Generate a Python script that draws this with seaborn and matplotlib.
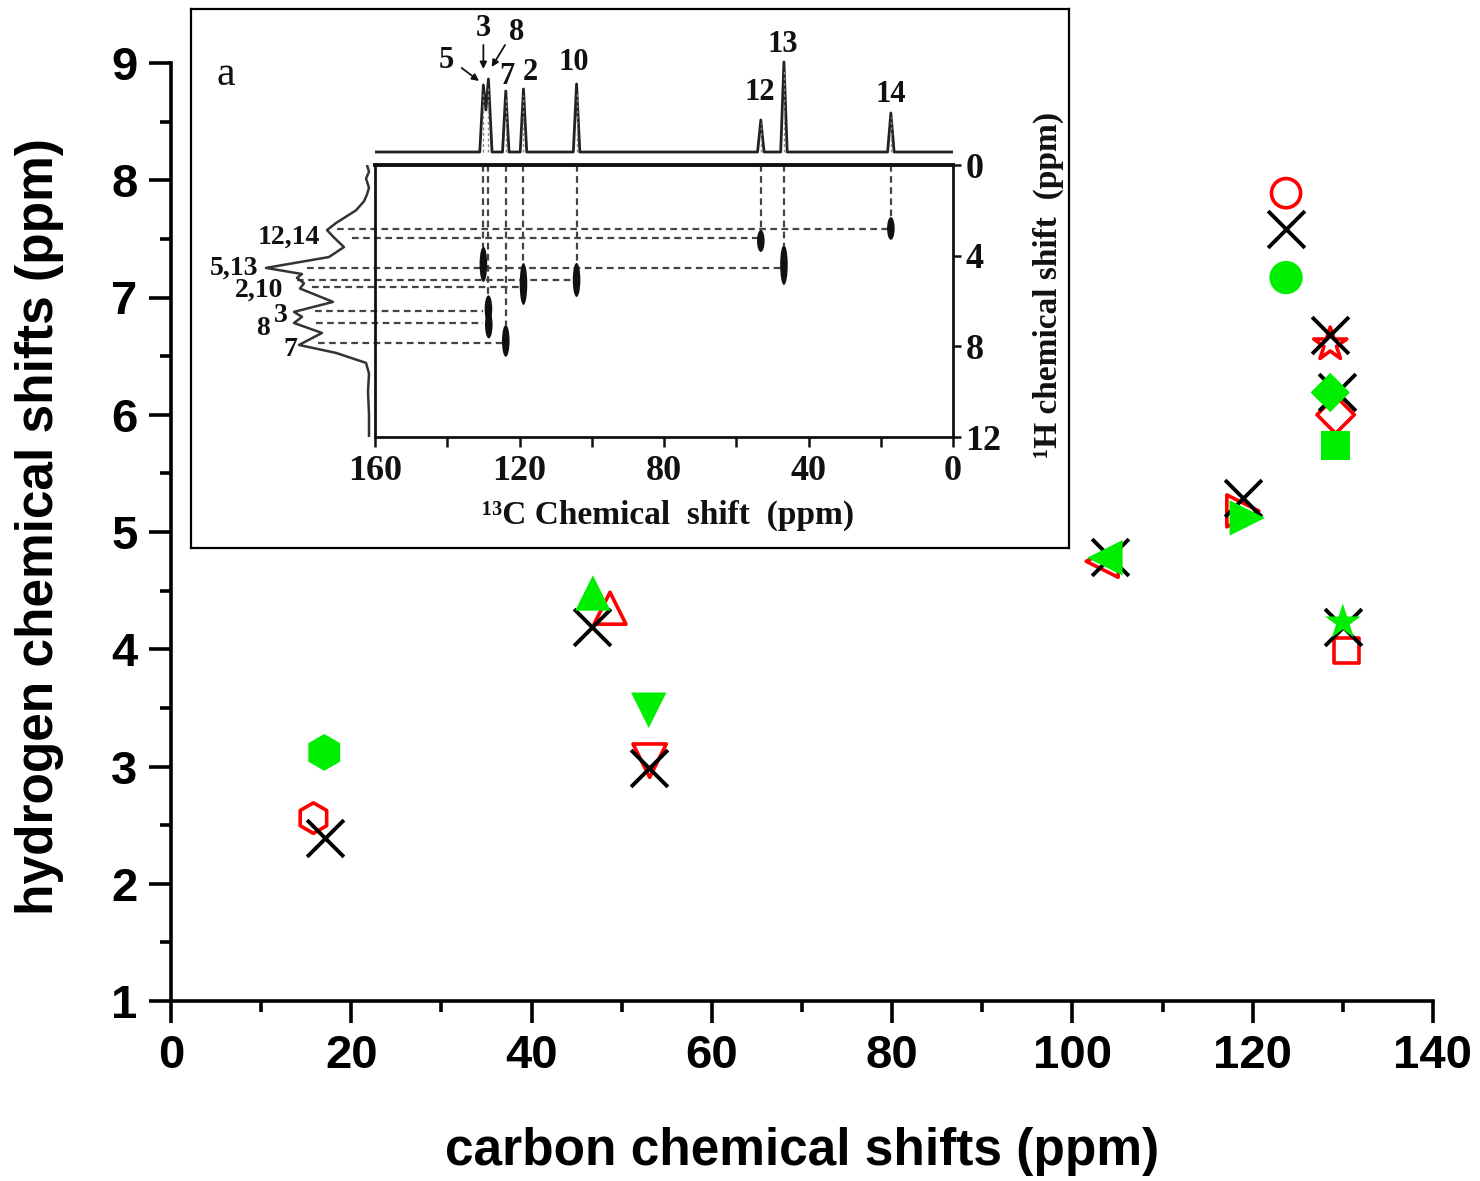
import numpy as np
import pandas as pd
import matplotlib
matplotlib.use("Agg")
import matplotlib.pyplot as plt
from matplotlib.patches import Ellipse
from matplotlib.ticker import MultipleLocator, FixedLocator
import seaborn as sns

# ---------------- main plot: carbon vs hydrogen chemical shifts (ppm) ----------------
red_shape = ["hex", "tri_up", "tri_down", "tri_left", "tri_right", "circle", "star", "diamond", "square"]
red_carbon = [15.8, 48.7, 53.1, 103.3, 118.9, 123.7, 128.6, 129.2, 130.4]
red_hydrogen = [2.56, 4.35, 3.05, 4.75, 5.18, 7.89, 6.60, 6.00, 3.99]

black_carbon = [17.1, 46.7, 53.0, 104.2, 118.9, 123.7, 128.6, 129.3, 130.0]
black_hydrogen = [2.39, 4.19, 2.99, 4.79, 5.29, 7.58, 6.68, 6.19, 4.19]

green_shape = ["hex", "tri_up", "tri_down", "tri_left", "tri_right", "circle", "diamond", "square", "star"]
green_carbon = [17.0, 46.8, 53.0, 103.6, 119.4, 123.7, 128.6, 129.2, 130.0]
green_hydrogen = [3.12, 4.48, 3.48, 4.78, 5.12, 7.17, 6.19, 5.74, 4.23]

x_ticks = [0, 20, 40, 60, 80, 100, 120, 140]
y_ticks = [1, 2, 3, 4, 5, 6, 7, 8, 9]

# ---------------- inset: 2D 1H-13C correlation spectrum ----------------
c13_trace_ppm = [160, 131.0, 130.0, 129.3, 128.6, 127.6, 124.7, 123.8, 122.9, 119.8, 118.9, 118.0,
                 105.1, 104.2, 103.3, 54.1, 53.2, 52.3, 47.7, 46.8, 45.9, 18.1, 17.2, 16.3, 0]
c13_trace_int = [0, 0, 67, 42, 73, 0, 0, 61, 0, 0, 63, 0,
                 0, 68, 0, 0, 32, 0, 0, 90, 0, 0, 39, 0, 0]

c13_peak_ppm = [130.0, 128.6, 123.8, 118.9, 104.2, 53.2, 46.8, 17.2]
c13_peak_int = [67, 73, 61, 63, 68, 32, 90, 39]

c13_labels = ["5", "3", "8", "7", "2", "10", "12", "13", "14"]
c13_label_ppm = [140.3, 130.0, 120.8, 123.5, 117.1, 105.1, 53.4, 47.1, 17.2]
c13_label_int = [92, 124, 120, 75, 79, 90, 59, 108, 57]

arrow_tail_ppm = [136.0, 130.0, 124.0]
arrow_tail_int = [84, 107, 107]
arrow_head_ppm = [131.2, 130.0, 127.7]
arrow_head_int = [71, 83, 85]

h1_trace_ppm = [0.0, 0.3, 0.6, 1.0, 1.3, 1.6, 2.0, 2.56, 2.87, 3.2, 3.62, 4.06, 4.54, 4.81, 4.98,
                5.22, 5.45, 6.04, 6.48, 6.7, 6.97, 7.41, 7.94, 8.29, 8.73, 9.2, 10.0, 11.0, 12.0]
h1_trace_int = [3, 1, 4, 1, 3, 6, 14, 34, 43, 36, 26, 41, 104, 68, 73,
                66, 70, 37, 76, 68, 76, 48, 71, 34, 4, 1, 2, 1, 1]

h1_labels = ["12,14", "5,13", "2,10", "3", "8", "7"]
h1_label_ppm = [3.18, 4.55, 5.52, 6.62, 7.22, 8.14]
h1_label_int = [50, 112, 87, 82, 100, 73]

cross_c = [130.0, 128.6, 128.5, 123.8, 118.9, 104.2, 53.2, 46.8, 17.2]
cross_h = [4.38, 6.35, 7.05, 7.76, 5.25, 5.07, 3.35, 4.41, 2.80]
cross_len = [1.55, 1.2, 1.2, 1.4, 1.85, 1.5, 0.97, 1.76, 1.0]

vline_c = [130.0, 128.6, 123.8, 118.9, 104.2, 53.2, 46.8, 17.2]
vline_h_end = [3.6, 5.75, 7.06, 4.32, 4.32, 2.87, 3.53, 2.3]

hline_h = [2.82, 3.23, 4.56, 5.07, 5.37, 6.44, 6.96, 7.84]
hline_c_start = [170.5, 166.3, 178.8, 181.5, 177.4, 176.6, 176.3, 175.8]
hline_c_end = [17.2, 53.2, 46.8, 104.2, 118.9, 130.0, 130.0, 123.8]

inset_x_major = [160, 120, 80, 40, 0]
inset_x_minor = [140, 100, 60, 20]
inset_y_ticks = [0, 4, 8, 12]

# ---------------- styling ----------------
sns.set_theme(style="ticks")
plt.rcParams["font.family"] = ["Liberation Sans", "DejaVu Sans"]
plt.rcParams["font.weight"] = "bold"
plt.rcParams["axes.labelweight"] = "bold"
for key in ("text.color", "axes.labelcolor", "xtick.color", "ytick.color", "axes.edgecolor"):
    plt.rcParams[key] = "black"

glyph = {"hex": "h", "tri_up": "^", "tri_down": "v", "tri_left": "<", "tri_right": ">",
         "circle": "o", "star": "*", "diamond": "D", "square": "s"}
green_size = {"hex": 26.5, "tri_up": 25.5, "tri_down": 25.5, "tri_left": 25.5, "tri_right": 25.5,
              "circle": 24, "star": 27, "diamond": 20, "square": 21}
red_size = {"hex": 22, "tri_up": 23, "tri_down": 24, "tri_left": 23, "tri_right": 23,
            "circle": 21, "star": 25, "diamond": 19, "square": 18}
RED, GREEN, BLACK = "#ff0000", "#00ee00", "#000000"
INK = "#111111"

W, H = 1480, 1181
fig = plt.figure(figsize=(W / 100, H / 100), dpi=100)
fig.patch.set_facecolor("white")


def px_rect(x0, y0, x1, y1):
    return [x0 / W, 1 - y1 / H, (x1 - x0) / W, (y1 - y0) / H]


ax = fig.add_axes(px_rect(171, 63, 1433, 1001))

red_df = pd.DataFrame({"carbon": red_carbon, "hydrogen": red_hydrogen, "shape": red_shape})
green_df = pd.DataFrame({"carbon": green_carbon, "hydrogen": green_hydrogen, "shape": green_shape})
black_df = pd.DataFrame({"carbon": black_carbon, "hydrogen": black_hydrogen})

sns.scatterplot(data=red_df, x="carbon", y="hydrogen", style="shape", markers=glyph,
                size="shape", sizes={k: v ** 2 for k, v in red_size.items()},
                color=RED, linewidth=2.6, legend=False, zorder=3, ax=ax)
open_pts = ax.collections[-1]
open_pts.set_facecolor("none")
open_pts.set_edgecolor(RED)
open_pts.set_linewidth(2.6)

sns.scatterplot(data=black_df, x="carbon", y="hydrogen", marker="x", s=26.5 ** 2,
                color=BLACK, linewidth=2.8, legend=False, zorder=4, ax=ax)

sns.scatterplot(data=green_df, x="carbon", y="hydrogen", style="shape", markers=glyph,
                size="shape", sizes={k: v ** 2 for k, v in green_size.items()},
                color=GREEN, linewidth=0, legend=False, zorder=5, ax=ax)

ax.set_xlim(0, 140)
ax.set_ylim(1, 9)
ax.xaxis.set_major_locator(FixedLocator(x_ticks))
ax.yaxis.set_major_locator(FixedLocator(y_ticks))
ax.xaxis.set_minor_locator(MultipleLocator(10))
ax.yaxis.set_minor_locator(MultipleLocator(0.5))
sns.despine(ax=ax)
for side in ("left", "bottom"):
    ax.spines[side].set_linewidth(2.6)
    ax.spines[side].set_color("black")
ax.tick_params(which="major", length=16, width=2.6, color="black", labelcolor="black",
               pad=8, labelsize=34, labelfontfamily=["Liberation Sans Narrow", "Liberation Sans"])
ax.tick_params(which="minor", length=8, width=2.6, color="black")
ax.set_xlabel("carbon chemical shifts (ppm)", fontsize=37, fontweight="bold", color="black")
ax.set_ylabel("hydrogen chemical shifts (ppm)", fontsize=37, fontweight="bold", color="black")
ax.xaxis.label.set_va("center")
ax.yaxis.label.set_va("center")
ax.xaxis.set_label_coords(0.5, (1001 - 1152) / 938)
ax.yaxis.set_label_coords((40 - 171) / 1262, (1001 - 527) / 938)

# ---------------- inset frame ----------------
serif = ["Liberation Serif", "DejaVu Serif"]
box = fig.add_axes(px_rect(191, 9, 1069, 548))
box.set_xticks([])
box.set_yticks([])
box.set_facecolor("white")
for sp in box.spines.values():
    sp.set_visible(True)
    sp.set_linewidth(1.6)
    sp.set_color("black")
box.text(0.04, 0.878, "a", transform=box.transAxes, fontsize=30, fontweight="normal",
         family=serif, ha="center", va="center", color=INK)

# 2D correlation panel
ax2 = fig.add_axes(px_rect(375, 165, 953, 437))
ax2.set_facecolor("white")
ax2.set_xlim(160, 0)
ax2.set_ylim(12, 0)
for side, sp in ax2.spines.items():
    sp.set_visible(True)
    sp.set_color(INK)
    sp.set_linewidth(2.8 if side == "top" else 2.0)
ax2.xaxis.set_major_locator(FixedLocator(inset_x_major))
ax2.xaxis.set_minor_locator(FixedLocator(inset_x_minor))
ax2.yaxis.set_major_locator(FixedLocator(inset_y_ticks))
ax2.yaxis.tick_right()
ax2.tick_params(axis="x", which="both", length=7, width=1.8, color=INK, labelcolor=INK, pad=6,
                labelsize=26, labelfontfamily=serif)
ax2.tick_params(axis="y", which="major", length=6, width=1.8, color=INK, labelcolor=INK, pad=3,
                labelsize=26, labelfontfamily=serif, right=True, left=False)
ax2.set_xlabel("¹³C Chemical  shift  (ppm)", fontsize=24, fontweight="bold", family=serif,
               color=INK)
ax2.xaxis.set_label_coords((668 - 375) / 578, (437 - 515) / 272)
ax2.xaxis.label.set_va("center")
ax2.yaxis.set_label_position("right")
ax2.set_ylabel("¹H chemical shift  (ppm)", fontsize=24, fontweight="bold", family=serif,
               rotation=90, color=INK)
ax2.yaxis.set_label_coords((1048 - 375) / 578, (437 - 285) / 272)
ax2.yaxis.label.set_va("center")

dash = dict(colors="#444444", linestyles=(0, (3, 2)), linewidths=1.6)
ax2.vlines(vline_c, 0, vline_h_end, **dash)
hl = ax2.hlines(hline_h, hline_c_start, hline_c_end, **dash)
hl.set_clip_on(False)
for c, h, ln in zip(cross_c, cross_h, cross_len):
    ax2.add_patch(Ellipse((c, h), 2.1, ln, facecolor=INK, edgecolor="none", zorder=3))

# 13C projection on top
axt = fig.add_axes(px_rect(375, 12, 953, 162))
axt.set_xlim(160, 0)
axt.set_ylim(-10, 140)
axt.axis("off")
sns.lineplot(x=c13_trace_ppm, y=c13_trace_int, sort=False, estimator=None, color="#222222",
             linewidth=2.0, ax=axt)
axt.vlines(c13_peak_ppm, 0, [v * 0.9 for v in c13_peak_int], colors="#888888",
           linestyles=(0, (2, 2)), linewidths=1.0)
for lab, xp, yp in zip(c13_labels, c13_label_ppm, c13_label_int):
    axt.text(xp, yp, lab, fontsize=22, fontweight="bold", family=serif, ha="center",
             va="center", color=INK)
for xt, yt, xh, yh in zip(arrow_tail_ppm, arrow_tail_int, arrow_head_ppm, arrow_head_int):
    axt.annotate("", xy=(xh, yh), xytext=(xt, yt),
                 arrowprops=dict(arrowstyle="-|>", color=INK, lw=1.3,
                                 shrinkA=0, shrinkB=0, mutation_scale=10))

# 1H projection on the left
axl = fig.add_axes(px_rect(250, 165, 375, 437))
axl.set_xlim(120, -5)
axl.set_ylim(12, 0)
axl.axis("off")
sns.lineplot(x=h1_trace_int, y=h1_trace_ppm, sort=False, estimator=None, orient="y",
             color="#333333", linewidth=1.8, ax=axl)
for lab, yp, xp in zip(h1_labels, h1_label_ppm, h1_label_int):
    axl.text(xp, yp, lab, fontsize=20, fontweight="bold", family=serif, ha="right",
             va="center", color=INK)

fig.savefig("out.png", dpi=100, facecolor="white")
